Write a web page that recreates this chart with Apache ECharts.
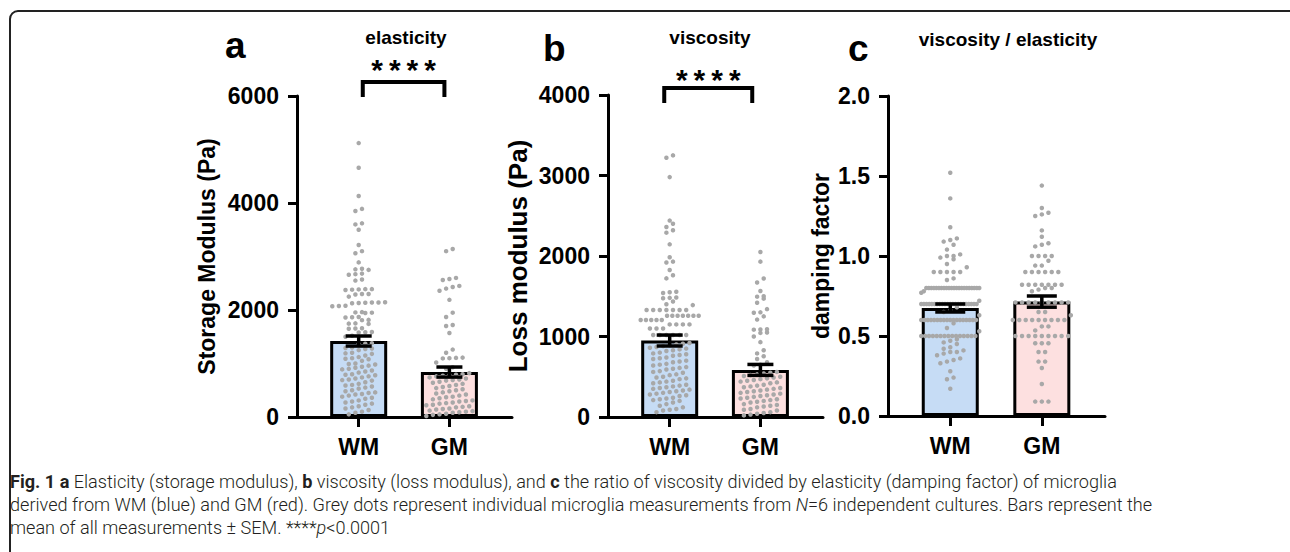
<!DOCTYPE html>
<html><head><meta charset="utf-8">
<script src="https://cdn.jsdelivr.net/npm/echarts@6/dist/echarts.min.js"></script>
<style>html,body{margin:0;padding:0;background:#fff}#c{width:1290px;height:552px}</style>
</head><body><div id="c"></div>
<script>
// ---------------- data ----------------
const categories = ['WM', 'GM'];

const elasticityWM = [5120, 4660, 4130, 3890, 3850, 3620, 3600, 3500, 3215, 3100, 3060, 2890, 2770, 2760, 2750, 2680, 2670, 2660, 2570, 2550,
  2390, 2390, 2385, 2380, 2375, 2300, 2300, 2290, 2250, 2145, 2140, 2140, 2135, 2130, 2125, 2080, 2075, 2070, 1960, 1955, 1950, 1945,
  1870, 1865, 1860, 1815, 1810, 1750, 1745, 1740, 1660, 1655, 1650, 1590, 1585, 1580, 1520, 1500,
  1380, 1370, 1360, 1300, 1290, 1280, 1270, 1250, 1200, 1190, 1180, 1150, 1120, 1100, 1090, 1080, 1050, 1000, 990, 980, 960, 940,
  920, 900, 890, 870, 850, 830, 800, 790, 780, 760, 740, 720, 700, 690, 680, 650, 620, 600, 590, 570, 550, 530, 500, 480, 460, 450,
  430, 420, 400, 380, 360, 340, 310, 290, 270, 250, 230, 200, 180, 160, 130, 100, 80, 50];
const elasticityGM = [3140, 3100, 2600, 2580, 2560, 2450, 2430, 2400, 2360, 2190, 1950, 1870, 1720, 1700, 1570, 1260, 1200, 1110, 1105, 1100,
  1095, 1020, 930, 900,
  820, 800, 790, 780, 770, 760, 740, 720, 700, 690, 680, 660, 640, 620, 600, 580, 560, 540, 520, 500, 480, 460, 440, 420, 400, 380,
  370, 350, 330, 310, 300, 290, 270, 260, 250, 230, 220, 200, 190, 180, 160, 150, 140, 120, 110, 100, 90, 80, 60, 50, 40, 20];

const viscosityWM = [3250, 3220, 2980, 2440, 2400, 2360, 2320, 2290, 2145, 1985, 1930, 1920, 1826, 1760, 1722, 1556, 1550, 1540, 1485, 1480,
  1475, 1435, 1400, 1390, 1330, 1330, 1330, 1330, 1330, 1330, 1330, 1258, 1258, 1258, 1258, 1258, 1258, 1258, 1205, 1205, 1205, 1205, 1205,
  1150, 1150, 1150, 1150, 1100, 1100, 1100, 1018, 1018, 1018, 1018, 1018, 1018,
  920, 910, 900, 890, 880, 870, 860, 850, 840, 830, 820, 800, 790, 780, 770, 760, 740, 730, 720, 700, 690, 680, 660, 650, 640, 620,
  610, 600, 590, 570, 560, 550, 530, 520, 500, 490, 480, 470, 450, 440, 430, 420, 400, 390, 380, 370, 360, 350, 340, 330, 320, 310,
  300, 290, 280, 270, 260, 240, 230, 220, 210, 200, 180, 160, 140, 120, 100, 90, 80, 60];
const viscosityGM = [2050, 1930, 1720, 1670, 1565, 1500, 1495, 1470, 1420, 1340, 1300, 1295, 1250, 1210, 1090, 1088, 1085, 1050, 1045, 1000,
  930, 830, 790, 755, 720, 680, 650, 640,
  560, 550, 540, 530, 520, 510, 500, 490, 480, 470, 460, 450, 440, 430, 420, 400, 390, 380, 370, 360, 350, 340, 330, 320, 310, 300,
  290, 280, 270, 260, 250, 240, 230, 220, 210, 200, 190, 180, 160, 150, 140, 130, 120, 100, 90, 80, 60, 50, 40, 30, 20];

const dampingWM = [1.52, 1.36, 1.18, 1.11, 1.10, 1.09, 1.07, 1.04, 1.01, 1.00, 1.00, 0.99, 0.98, 0.95, 0.93, 0.90, 0.90, 0.90, 0.90, 0.90,
  0.86, 0.85,
  0.80, 0.80, 0.80, 0.80, 0.80, 0.80, 0.80, 0.80, 0.80, 0.80, 0.80, 0.80, 0.80, 0.80, 0.80, 0.80, 0.80, 0.80, 0.80, 0.80, 0.80, 0.80,
  0.78, 0.77, 0.72,
  0.70, 0.70, 0.70, 0.70, 0.70, 0.70, 0.70, 0.70, 0.70, 0.70, 0.70, 0.70, 0.70, 0.70, 0.70, 0.70, 0.70, 0.70, 0.70, 0.70, 0.70, 0.70,
  0.68, 0.66, 0.65, 0.63,
  0.60, 0.60, 0.60, 0.60, 0.60, 0.60, 0.60, 0.60, 0.60, 0.60, 0.60, 0.60, 0.60, 0.60, 0.60, 0.60, 0.60, 0.60,
  0.58, 0.55, 0.53,
  0.50, 0.50, 0.50, 0.50, 0.50, 0.50, 0.50, 0.50, 0.50, 0.50, 0.50, 0.50, 0.50, 0.50, 0.50,
  0.48, 0.47, 0.46, 0.45, 0.43, 0.42, 0.41, 0.40, 0.40, 0.39, 0.38, 0.36, 0.35, 0.34, 0.33, 0.28, 0.24, 0.23, 0.17];
const dampingGM = [1.44, 1.30, 1.27, 1.25, 1.26, 1.16, 1.12, 1.08, 1.07, 1.06, 1.00, 1.00, 1.00, 1.00, 0.97, 0.94, 0.94,
  0.90, 0.90, 0.90, 0.90, 0.90, 0.90, 0.82, 0.82, 0.82, 0.82, 0.82, 0.82, 0.82, 0.80, 0.80, 0.79, 0.78,
  0.71, 0.71, 0.71, 0.71, 0.71, 0.71, 0.71, 0.71, 0.71, 0.65, 0.65, 0.63,
  0.60, 0.60, 0.60, 0.60, 0.60, 0.60, 0.60, 0.60, 0.60, 0.56, 0.56, 0.535,
  0.50, 0.50, 0.50, 0.50, 0.50, 0.50, 0.50, 0.50, 0.50, 0.455, 0.455, 0.455, 0.40, 0.40, 0.34, 0.34, 0.30, 0.20, 0.09, 0.09, 0.09];

const meanElasticity = [1420, 840];
const semElasticity = [94, 94];
const meanViscosity = [950, 585];
const semViscosity = [68, 68];
const meanDamping = [0.675, 0.715];
const semDamping = [0.025, 0.035];

// bracket: [from category, to category, leg bottom, bracket top, stars level]
const bracketElasticity = [0.045, 0.945, 5980, 6260, 6600];
const bracketViscosity = [-0.06, 0.91, 3900, 4086, 4272];

const titles = ['elasticity', 'viscosity', 'viscosity / elasticity'];
const panelLetters = ['a', 'b', 'c'];
const yNames = ['Storage Modulus (Pa)', 'Loss modulus (Pa)', 'damping factor'];
const yMax = [6000, 4000, 2.0];
const yStep = [2000, 1000, 0.5];
const sigText = '****';

// ---------------- layout / style ----------------
const FONT = 'Liberation Sans, Arial, sans-serif';
const panels = [
  {grid: {left: 297, top: 96, width: 215, height: 321}, nameSize: 23, nameGap: 79, dec: 0,
   values: [elasticityWM, elasticityGM], mean: meanElasticity, sem: semElasticity, bracket: bracketElasticity, cap: 13},
  {grid: {left: 608, top: 95, width: 215, height: 322}, nameSize: 26, nameGap: 77, dec: 0,
   values: [viscosityWM, viscosityGM], mean: meanViscosity, sem: semViscosity, bracket: bracketViscosity, cap: 13},
  {grid: {left: 888, top: 96, width: 217, height: 320}, nameSize: 23, nameGap: 56, dec: 1,
   values: [dampingWM, dampingGM], mean: meanDamping, sem: semDamping, bracket: null, cap: 15}
];
const barColors = ['#c6dcf5', '#fde0e0'];
const dotColor = '#a8a8a8';

const chart = echarts.init(document.getElementById('c'), null, {renderer: 'svg'});

const grids = [], xAxes = [], yAxes = [], series = [];
panels.forEach((p, i) => {
  grids.push(Object.assign({containLabel: false}, p.grid));
  xAxes.push({
    type: 'value', gridIndex: i, min: -0.68, max: 1.69,
    axisLine: {show: true, onZero: false, lineStyle: {color: '#000', width: 3}},
    axisTick: {show: true, customValues: [0, 1], length: 10, lineStyle: {color: '#000', width: 3}},
    axisLabel: {show: true, customValues: [0, 1], formatter: v => categories[Math.round(v)] || '',
      fontFamily: FONT, fontWeight: 'bold', fontSize: 23, color: '#000', margin: 18},
    splitLine: {show: false}
  });
  yAxes.push({
    type: 'value', gridIndex: i, min: 0, max: yMax[i], interval: yStep[i],
    name: yNames[i], nameLocation: 'middle', nameRotate: 90, nameGap: p.nameGap,
    nameTextStyle: {fontFamily: FONT, fontWeight: 'bold', fontSize: p.nameSize, color: '#000'},
    axisLine: {show: true, onZero: false, lineStyle: {color: '#000', width: 3}},
    axisTick: {show: true, length: 9, lineStyle: {color: '#000', width: 3}},
    axisLabel: {fontFamily: FONT, fontWeight: 'bold', fontSize: 23, color: '#000', margin: 18,
      formatter: v => v.toFixed(p.dec)},
    splitLine: {show: false}
  });
  series.push({
    type: 'bar', xAxisIndex: i, yAxisIndex: i, barWidth: 57, z: 2, silent: true,
    itemStyle: {borderColor: '#000', borderWidth: 3},
    data: p.mean.map((m, k) => ({value: [k, m], itemStyle: {color: barColors[k]}}))
  });
  series.push({
    id: 'swarm' + i, type: 'scatter', xAxisIndex: i, yAxisIndex: i, z: 3, silent: true,
    symbolSize: 4.5, itemStyle: {color: dotColor, opacity: 1}, data: []
  });
  series.push({
    type: 'custom', xAxisIndex: i, yAxisIndex: i, z: 4, silent: true,
    encode: {x: 0, y: 1},
    data: p.mean.map((m, k) => [k, m, p.sem[k]]),
    renderItem: (params, api) => {
      const x = api.value(0), m = api.value(1), s = api.value(2);
      const t = api.coord([x, m + s]), b = api.coord([x, m - s]);
      const st = {stroke: '#000', lineWidth: 3.5};
      return {type: 'group', children: [
        {type: 'line', shape: {x1: t[0], y1: t[1], x2: b[0], y2: b[1]}, style: st},
        {type: 'line', shape: {x1: t[0] - p.cap, y1: t[1], x2: t[0] + p.cap, y2: t[1]}, style: st},
        {type: 'line', shape: {x1: b[0] - p.cap, y1: b[1], x2: b[0] + p.cap, y2: b[1]}, style: st}
      ]};
    }
  });
  if (p.bracket) {
    series.push({
      type: 'custom', xAxisIndex: i, yAxisIndex: i, z: 4, silent: true, clip: false,
      encode: {x: [0, 1], y: [2]},
      data: [p.bracket],
      renderItem: (params, api) => {
        const x1 = api.value(0), x2 = api.value(1), y0 = api.value(2), y1 = api.value(3), ys = api.value(4);
        const a = api.coord([x1, y0]), b = api.coord([x1, y1]), c = api.coord([x2, y1]), d = api.coord([x2, y0]);
        const s = api.coord([(x1 + x2) / 2, ys]);
        return {type: 'group', children: [
          {type: 'polyline', shape: {points: [a, b, c, d]}, style: {stroke: '#000', lineWidth: 4, fill: null}},
          {type: 'text', x: s[0], y: s[1] + 6, style: {text: sigText.split('').join('\u2009'), fill: '#000',
            font: 'bold 30px ' + FONT, align: 'center', verticalAlign: 'middle'}}
        ]};
      }
    });
  }
});

const titleCfg = [
  {text: titles[0], left: 406, top: 37},
  {text: titles[1], left: 710, top: 37},
  {text: titles[2], left: 1008, top: 39}
];
const letterCfg = [{x: 225, y: 45}, {x: 543, y: 48}, {x: 848, y: 48}];
const captionLines = [
  '{b|Fig. 1 a} Elasticity (storage modulus), {b|b} viscosity (loss modulus), and {b|c} the ratio of viscosity divided by elasticity (damping factor) of microglia',
  'derived from WM (blue) and GM (red). Grey dots represent individual microglia measurements from {i|N}=6 independent cultures. Bars represent the',
  'mean of all measurements \u00b1 SEM. ****{i|p}<0.0001'
];
const capY = [481, 504, 527];
const CAPFONT = 'Roboto, sans-serif';
const capSize = 18.1;

const graphic = [
  {type: 'rect', shape: {x: 10, y: 11, width: 1300, height: 600, r: 8}, style: {fill: 'none', stroke: '#222', lineWidth: 2}, silent: true, z: 0}
];
titleCfg.forEach(t => graphic.push({type: 'text', x: t.left, y: t.top, silent: true,
  style: {text: t.text, font: 'bold 19px ' + FONT, fill: '#000', align: 'center', verticalAlign: 'middle'}}));
letterCfg.forEach((t, i) => graphic.push({type: 'text', x: t.x, y: t.y, silent: true,
  style: {text: panelLetters[i], font: 'bold 37px ' + FONT, fill: '#000', align: 'left', verticalAlign: 'middle'}}));
captionLines.forEach((line, i) => graphic.push({type: 'text', x: 10, y: capY[i], silent: true,
  style: {text: line, fontFamily: CAPFONT, fontSize: capSize, fontWeight: 300, fill: '#231f20', align: 'left', verticalAlign: 'middle',
    rich: {b: {fontFamily: CAPFONT, fontSize: capSize, fontWeight: 'bold', fill: '#231f20'},
           i: {fontFamily: CAPFONT, fontSize: capSize, fontWeight: 300, fontStyle: 'italic', fill: '#231f20'}}}}));

chart.setOption({animation: false, grid: grids, xAxis: xAxes, yAxis: yAxes, series: series, graphic: graphic});

// beeswarm layout through the chart's own scales
function swarm(values, center, gi) {
  const x0 = chart.convertToPixel({gridIndex: gi}, [0, 0])[0];
  const x1 = chart.convertToPixel({gridIndex: gi}, [1, 0])[0];
  const unit = x1 - x0;
  const pts = values.map(v => ({v: v, py: chart.convertToPixel({gridIndex: gi}, [0, v])[1]}));
  pts.sort((a, b) => b.py - a.py);
  const rows = [];
  let cur = null;
  pts.forEach(p => {
    if (!cur || cur.start - p.py >= 5) { cur = {start: p.py, pts: []}; rows.push(cur); }
    cur.pts.push(p);
  });
  const out = [];
  rows.forEach(r => {
    const n = r.pts.length;
    const sp = n > 1 ? Math.min(6.6, 58 / (n - 1)) : 0;
    r.pts.forEach((p, k) => out.push([center + ((k - (n - 1) / 2) * sp) / unit, p.v]));
  });
  return out;
}
const upd = panels.map((p, i) => ({id: 'swarm' + i, data: swarm(p.values[0], 0, i).concat(swarm(p.values[1], 1, i))}));
chart.setOption({series: upd});
</script>
</body></html>
